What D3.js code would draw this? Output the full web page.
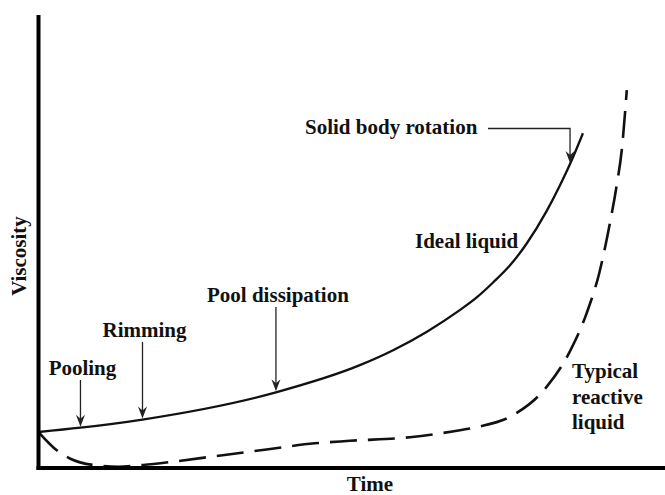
<!DOCTYPE html>
<html>
<head>
<meta charset="utf-8">
<script src="https://cdn.jsdelivr.net/npm/d3@7"></script>
<style>
  html, body { margin: 0; padding: 0; background: #fff; }
  svg { display: block; }
  text { font-family: "Liberation Serif", "Times New Roman", serif; font-weight: bold; fill: #111; }
</style>
</head>
<body>
<svg id="chart" width="665" height="495"></svg>
<script>
// Viscosity versus time (arbitrary units, 0-100 on both axes)
const idealTime      = [0, 6.7, 16.6, 37.9, 51.3, 56.6, 62.0, 67.3, 69.9, 72.6, 75.3, 77.9, 81.1, 83.2, 85.0, 86.9];
const idealViscosity = [7.95, 8.9, 10.7, 16.7, 22.7, 26.0, 30.1, 34.9, 37.6, 41.0, 44.8, 49.5, 56.7, 62.3, 67.6, 73.9];

const reactiveTime      = [0, 3.2, 5.0, 8.75, 12.7, 16.7, 21.5, 28.4, 36.4, 44.1, 49.7, 59.3, 67.5, 70.2, 75.8, 81.1, 84.8, 87.5, 89.5, 91.2, 92.3, 93.1, 93.9];
const reactiveViscosity = [7.95, 3.6, 2.1, 0.66, 0.29, 0.66, 1.4, 2.65, 4.1, 5.45, 6.0, 6.8, 8.4, 9.1, 11.7, 17.9, 25.7, 34.2, 43.0, 54.0, 62.5, 70.2, 83.4];

// Process stages marked on the ideal-liquid curve
const stageLabels = ["Pooling", "Rimming", "Pool dissipation", "Solid body rotation"];
const stageTimes  = [6.7, 16.6, 37.9, 85.0];

const curveLabel    = "Ideal liquid";
const reactiveLabel = ["Typical", "reactive", "liquid"];
const xTitle = "Time";
const yTitle = "Viscosity";

const svg = d3.select("#chart");
const plot = { left: 38.5, right: 665, top: 15, bottom: 468 };

const x = d3.scaleLinear().domain([0, 100]).range([plot.left, plot.right]);
const y = d3.scaleLinear().domain([0, 100]).range([plot.bottom, plot.top]);

const line = d3.line()
  .x(d => x(d[0]))
  .y(d => y(d[1]))
  .curve(d3.curveMonotoneX);

const ideal = d3.zip(idealTime, idealViscosity);
const reactive = d3.zip(reactiveTime, reactiveViscosity);

// Curves
const idealPath = svg.append("path")
  .datum(ideal)
  .attr("d", line)
  .attr("fill", "none")
  .attr("stroke", "#111")
  .attr("stroke-width", 2.3);

svg.append("path")
  .datum(reactive)
  .attr("d", line)
  .attr("fill", "none")
  .attr("stroke", "#111")
  .attr("stroke-width", 2.6)
  .attr("stroke-dasharray", "27 11");

// Axes: plain heavy lines without ticks
const xAxis = svg.append("g").attr("transform", `translate(0,${plot.bottom})`)
  .call(d3.axisBottom(x).tickValues([]).tickSizeOuter(0));
xAxis.select(".domain").attr("stroke", "#000").attr("stroke-width", 4)
  .attr("d", `M${plot.left - 2},0H${plot.right}`);

const yAxis = svg.append("g").attr("transform", `translate(${plot.left},0)`)
  .call(d3.axisLeft(y).tickValues([]).tickSizeOuter(0));
yAxis.select(".domain").attr("stroke", "#000").attr("stroke-width", 4)
  .attr("d", `M0,${plot.top}V${plot.bottom + 2}`);

svg.append("text")
  .attr("x", 370).attr("y", 491)
  .attr("text-anchor", "middle")
  .attr("font-size", 21)
  .text(xTitle);

svg.append("text")
  .attr("transform", "translate(26,256) rotate(-90)")
  .attr("text-anchor", "middle")
  .attr("font-size", 21)
  .text(yTitle);

// Find the rendered y of a path at a given screen x
function yOnPath(node, px) {
  const total = node.getTotalLength();
  let lo = 0, hi = total;
  for (let i = 0; i < 40; i++) {
    const mid = (lo + hi) / 2;
    if (node.getPointAtLength(mid).x < px) lo = mid; else hi = mid;
  }
  return node.getPointAtLength((lo + hi) / 2).y;
}

function arrowHead(g, tx, ty) {
  g.append("path")
    .attr("d", `M${tx},${ty} L${tx - 4.5},${ty - 12} L${tx},${ty - 8} L${tx + 4.5},${ty - 12} Z`)
    .attr("fill", "#222");
}

const ann = svg.append("g");
const arrowTops = [380, 342, 307];
stageLabels.slice(0, 3).forEach((lab, i) => {
  const ax = x(stageTimes[i]);
  const tip = yOnPath(idealPath.node(), ax) - 1;
  ann.append("line")
    .attr("x1", ax).attr("x2", ax)
    .attr("y1", arrowTops[i]).attr("y2", tip - 4)
    .attr("stroke", "#222").attr("stroke-width", 1.3);
  arrowHead(ann, ax, tip);
  ann.append("text")
    .attr("x", ax + 2).attr("y", arrowTops[i] - 5)
    .attr("text-anchor", "middle")
    .attr("font-size", 21)
    .text(lab);
});

// Elbow arrow for the final stage
{
  const ax = x(stageTimes[3]) - 1;
  const tip = yOnPath(idealPath.node(), ax) - 1;
  ann.append("path")
    .attr("d", `M488,128.5 H${ax} V${tip - 4}`)
    .attr("fill", "none")
    .attr("stroke", "#222").attr("stroke-width", 1.3);
  arrowHead(ann, ax, tip);
  ann.append("text")
    .attr("x", 305).attr("y", 134)
    .attr("font-size", 21)
    .text(stageLabels[3]);
}

svg.append("text")
  .attr("x", 415).attr("y", 248)
  .attr("font-size", 21)
  .text(curveLabel);

const rl = svg.append("text").attr("font-size", 21);
reactiveLabel.forEach((t, i) => {
  rl.append("tspan").attr("x", 572).attr("y", 378 + i * 25.5).text(t);
});
</script>
</body>
</html>
